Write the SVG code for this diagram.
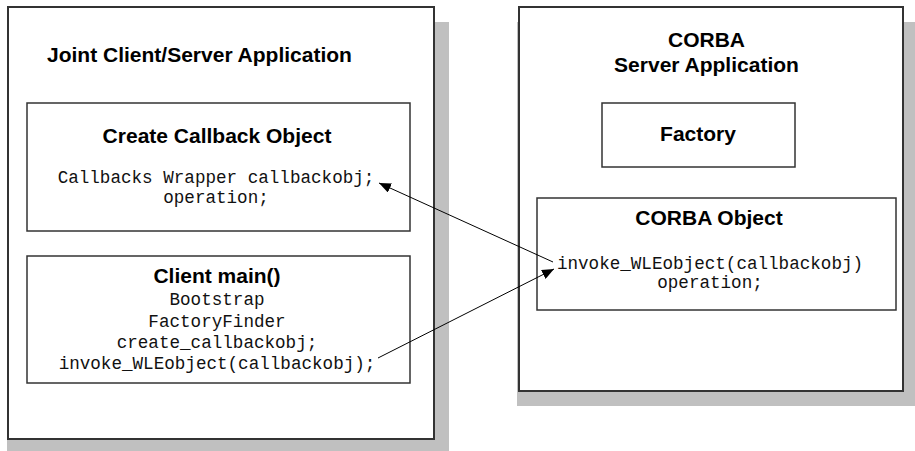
<svg xmlns="http://www.w3.org/2000/svg" width="915" height="451" viewBox="0 0 915 451">
<style>
.shadow{fill:#c0c0c0;stroke:none}
.outer{fill:#fff;stroke:#333;stroke-width:2}
.inner{fill:#fff;stroke:#333;stroke-width:1.5}
.title{font-family:"Liberation Sans",Arial,sans-serif;font-weight:bold;font-size:21px;fill:#000}
.code{font-family:"Liberation Mono","Courier New",monospace;font-size:17.6px;fill:#111}
.conn{stroke:#000;stroke-width:1;fill:none;marker-end:url(#ah)}
</style>
<defs>
<marker id="ah" markerWidth="12" markerHeight="10" refX="12" refY="5" orient="auto" markerUnits="userSpaceOnUse">
<path d="M0,0 L12,5 L0,10 Z" fill="#000"/>
</marker>
</defs>
<rect width="915" height="451" fill="#fff"/>
<g id="joint-app">
<rect class="shadow" x="7" y="22" width="442" height="440"/>
<rect class="outer" x="8" y="7" width="426" height="432"/>
<text class="title" x="47" y="62">Joint Client/Server Application</text>
</g>
<g id="create-callback">
<rect class="inner" x="27" y="103" width="383" height="128"/>
<text class="title" x="217" y="143" text-anchor="middle">Create Callback Object</text>
<text class="code" x="216" y="183" text-anchor="middle">Callbacks Wrapper callbackobj;</text>
<text class="code" x="216" y="203" text-anchor="middle">operation;</text>
</g>
<g id="client-main">
<rect class="inner" x="27" y="256" width="383" height="127"/>
<text class="title" x="217" y="283" text-anchor="middle">Client main()</text>
<text class="code" x="217" y="305" text-anchor="middle">Bootstrap</text>
<text class="code" x="217" y="327" text-anchor="middle">FactoryFinder</text>
<text class="code" x="217" y="348" text-anchor="middle">create_callbackobj;</text>
<text class="code" x="217" y="369" text-anchor="middle">invoke_WLEobject(callbackobj);</text>
</g>
<g id="corba-app">
<rect class="shadow" x="517" y="22" width="410" height="384"/>
<rect class="outer" x="519" y="7" width="384" height="384"/>
<text class="title" x="706.5" y="47" text-anchor="middle">CORBA</text>
<text class="title" x="706.5" y="72" text-anchor="middle">Server Application</text>
</g>
<g id="factory">
<rect class="inner" x="602" y="103" width="193" height="64"/>
<text class="title" x="698" y="141" text-anchor="middle">Factory</text>
</g>
<g id="corba-object">
<rect class="inner" x="537" y="198" width="359" height="112"/>
<text class="title" x="709" y="225" text-anchor="middle">CORBA Object</text>
<text class="code" x="710" y="269" text-anchor="middle">invoke_WLEobject(callbackobj)</text>
<text class="code" x="710" y="288" text-anchor="middle">operation;</text>
</g>
<g id="connectors">
<line class="conn" x1="553" y1="262" x2="379" y2="183"/>
<line class="conn" x1="378" y1="358" x2="554" y2="269"/>
</g>
</svg>
